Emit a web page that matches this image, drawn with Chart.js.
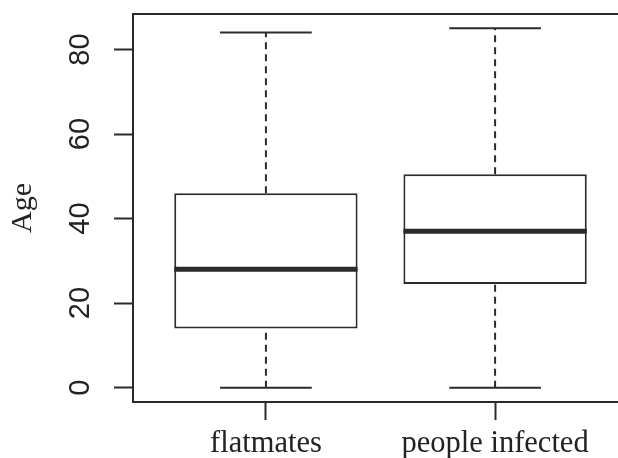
<!DOCTYPE html>
<html lang="en">
  <head>
    <meta charset="UTF-8" />
    <title>Age boxplot</title>
    <script src="https://cdn.jsdelivr.net/npm/chart.js"></script>
    <style>
      html,
      body {
        margin: 0;
        padding: 0;
        overflow: hidden;
        background: #fff;
      }
      .wrap {
        width: 630px;
        height: 458px;
      }
    </style>
  </head>
  <body>
    <div class="wrap">
      <canvas id="ageChart" width="630" height="458"></canvas>
    </div>

    <script>
      // values
      const categories = ["flatmates", "people infected"];
      const mins = [0, 0];
      const lowerQuartiles = [14, 24.5];
      const medians = [28, 37];
      const upperQuartiles = [46, 50.5];
      const maxs = [84, 85];
      const yTicks = [0, 20, 40, 60, 80];

      const ink = "#2b2b2b";
      const halfBox = 0.4;
      const halfCap = 0.2;

      // build the pieces of each box
      const boxes = [];
      const whiskers = [];
      const caps = [];
      const medianLines = [];
      categories.forEach((name, i) => {
        const x = i + 1;
        boxes.push({ x: x, y: [lowerQuartiles[i], upperQuartiles[i]] });
        whiskers.push(
          { x: x, y: upperQuartiles[i] },
          { x: x, y: maxs[i] },
          { x: x, y: null },
          { x: x, y: mins[i] },
          { x: x, y: lowerQuartiles[i] },
          { x: x, y: null }
        );
        caps.push(
          { x: x - halfCap, y: maxs[i] },
          { x: x + halfCap, y: maxs[i] },
          { x: x, y: null },
          { x: x - halfCap, y: mins[i] },
          { x: x + halfCap, y: mins[i] },
          { x: x, y: null }
        );
        medianLines.push(
          { x: x - halfBox, y: medians[i] },
          { x: x + halfBox, y: medians[i] },
          { x: x, y: null }
        );
      });

      // frame round the plot region, like R's box()
      const frame = {
        id: "frame",
        beforeDatasetsDraw(chart) {
          const a = chart.chartArea;
          const ctx = chart.ctx;
          ctx.save();
          ctx.strokeStyle = ink;
          ctx.lineWidth = 2;
          ctx.strokeRect(a.left, a.top, a.right - a.left, a.bottom - a.top);
          ctx.restore();
        },
      };

      const lineBase = {
        type: "line",
        pointRadius: 0,
        borderColor: ink,
        borderWidth: 2,
        spanGaps: false,
        fill: false,
      };

      new Chart(document.getElementById("ageChart"), {
        type: "bar",
        data: {
          datasets: [
            {
              data: boxes,
              backgroundColor: "#fff",
              borderColor: ink,
              borderWidth: 2,
              borderSkipped: false,
              categoryPercentage: 0.8,
              barPercentage: 1,
              order: 2,
            },
            Object.assign({}, lineBase, {
              data: whiskers,
              borderDash: [7, 5],
              order: 3,
            }),
            Object.assign({}, lineBase, { data: caps, order: 1 }),
            Object.assign({}, lineBase, {
              data: medianLines,
              borderWidth: 5,
              borderCapStyle: "butt",
              order: 0,
            }),
          ],
        },
        options: {
          responsive: false,
          animation: false,
          devicePixelRatio: 1,
          layout: { padding: { top: 14, right: 2, left: 0, bottom: 0 } },
          plugins: { legend: { display: false }, tooltip: { enabled: false } },
          scales: {
            x: {
              type: "linear",
              offset: false,
              min: 0.42,
              max: 2.58,
              afterBuildTicks: (scale) => {
                scale.ticks = categories.map((c, i) => ({ value: i + 1 }));
              },
              afterFit: (scale) => {
                scale.height = 56;
                scale.paddingLeft = 0;
                scale.paddingRight = 0;
              },
              ticks: {
                callback: (v) => categories[v - 1],
                font: { family: "Liberation Serif", size: 30.5 },
                color: "#222",
                padding: 6,
                maxRotation: 0,
                autoSkip: false,
              },
              grid: {
                offset: false,
                drawOnChartArea: false,
                drawTicks: true,
                tickLength: 18,
                tickColor: ink,
                tickWidth: 2,
              },
              border: { display: false },
            },
            y: {
              min: -3.4,
              max: 88.4,
              afterBuildTicks: (scale) => {
                scale.ticks = yTicks.map((v) => ({ value: v }));
              },
              afterFit: (scale) => {
                scale.width = 133;
                scale.paddingTop = 0;
                scale.paddingBottom = 0;
              },
              ticks: {
                font: { family: "Liberation Sans", size: 29 },
                color: "#222",
                minRotation: 90,
                maxRotation: 90,
                crossAlign: "center",
                padding: 17,
              },
              grid: {
                drawOnChartArea: false,
                drawTicks: true,
                tickLength: 19,
                tickColor: ink,
                tickWidth: 2,
              },
              border: { display: false },
              title: {
                display: true,
                text: "Age",
                font: { family: "Liberation Serif", size: 30 },
                color: "#222",
                padding: { top: 5, bottom: 4 },
              },
            },
          },
        },
        plugins: [frame],
      });
    </script>
  </body>
</html>
